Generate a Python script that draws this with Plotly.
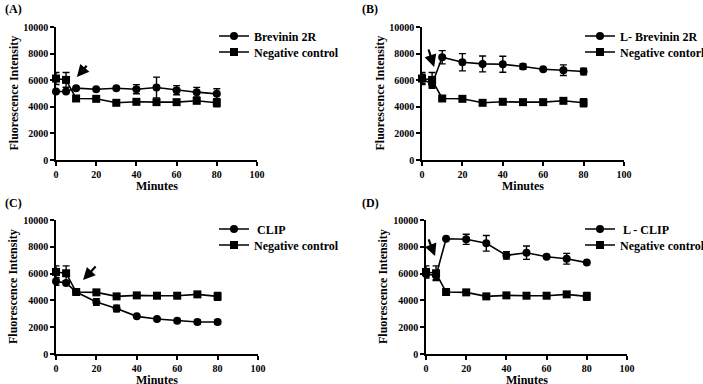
import plotly.graph_objects as go

minutes = [0, 5, 10, 20, 30, 40, 50, 60, 70, 80]

neg_ctrl = [6125, 6025, 4625, 4600, 4300, 4375, 4350, 4350, 4450, 4300]
neg_ctrl_err = [450, 550, 100, 80, 80, 80, 80, 80, 150, 300]

brevinin = [5150, 5150, 5400, 5325, 5400, 5325, 5450, 5250, 5100, 4975]
brevinin_err = [0, 0, 0, 0, 0, 340, 780, 340, 360, 380]

l_brevinin = [6100, 5700, 7725, 7350, 7225, 7200, 7025, 6825, 6750, 6650]
l_brevinin_err = [350, 300, 500, 650, 600, 600, 200, 0, 400, 250]

clip = [5420, 5300, 4630, 3880, 3400, 2810, 2610, 2490, 2390, 2390]
clip_err = [300, 0, 0, 250, 250, 0, 0, 0, 150, 150]

l_clip = [5970, 5850, 8600, 8560, 8260, 7360, 7560, 7260, 7110, 6820]
l_clip_err = [200, 300, 0, 380, 580, 270, 500, 0, 400, 0]

x_ticks = [0, 20, 40, 60, 80, 100]
y_ticks = [0, 2000, 4000, 6000, 8000, 10000]

panels = [
    dict(label="(A)", name="Brevinin 2R", ctrl_name="Negative control",
         y=brevinin, err=brevinin_err,
         arrow=(15.9, 7200, 10.4, 6240)),
    dict(label="(B)", name="L- Brevinin 2R", ctrl_name="Negative contorl",
         y=l_brevinin, err=l_brevinin_err,
         arrow=(3.0, 8420, 6.0, 7000)),
    dict(label="(C)", name=" CLIP", ctrl_name="Negative control",
         y=clip, err=clip_err,
         arrow=(20.3, 6640, 13.4, 5520)),
    dict(label="(D)", name=" L - CLIP", ctrl_name="Negative control",
         y=l_clip, err=l_clip_err,
         arrow=(1.0, 8660, 4.5, 7310)),
]

W, H = 703, 384
# pixel geometry of each panel: (x0, x100, y10000, y0)
geom = [(56, 257, 27, 160), (422, 624, 27, 160), (56, 258, 220, 354), (426, 627, 220, 354)]
# legend anchor: (x, row1 y, row2 y)
legpos = [(214, 36, 52), (580, 36, 52), (214, 229, 245), (580, 229, 245)]
labpos = [(3, 9), (360, 9), (3, 203), (360, 203)]

FONT = "Liberation Serif, Times New Roman, serif"
fig = go.Figure()
annotations = []
layout = {}
for i, (p, g) in enumerate(zip(panels, geom)):
    n = i + 1
    xa = "x" if n == 1 else f"x{n}"
    ya = "y" if n == 1 else f"y{n}"
    leg1 = "legend" if i == 0 else f"legend{2 * i + 1}"
    leg2 = f"legend{2 * i + 2}"
    common = dict(mode="lines+markers", line=dict(color="black", width=1.6),
                  cliponaxis=False, xaxis=xa, yaxis=ya, showlegend=True)
    fig.add_trace(go.Scatter(x=minutes, y=p["y"], name=p["name"], legend=leg1,
                             marker=dict(symbol="circle", size=8, color="black"),
                             error_y=dict(type="data", array=p["err"], color="black",
                                          thickness=1.4, width=3.5),
                             **common))
    fig.add_trace(go.Scatter(x=minutes, y=neg_ctrl, name=p["ctrl_name"], legend=leg2,
                             marker=dict(symbol="square", size=8, color="black"),
                             error_y=dict(type="data", array=neg_ctrl_err, color="black",
                                          thickness=1.4, width=3.5),
                             **common))
    x0, x100, yt, yb = g
    axis_common = dict(showline=True, linecolor="black", linewidth=1.6, ticks="outside",
                       ticklen=4, tickwidth=1.6, tickcolor="black", showgrid=False,
                       zeroline=False, automargin=False,
                       tickfont=dict(family=FONT, size=10, color="black", weight="bold"))
    layout["xaxis" if n == 1 else f"xaxis{n}"] = dict(
        domain=[x0 / W, x100 / W], range=[0, 100], tickvals=x_ticks,
        ticktext=[str(v) for v in x_ticks], anchor=ya, **axis_common)
    layout["yaxis" if n == 1 else f"yaxis{n}"] = dict(
        domain=[1 - yb / H, 1 - yt / H], range=[0, 10000],
        tickvals=y_ticks, ticktext=[str(v) for v in y_ticks], anchor=xa,
        **axis_common)
    lx, ly1, ly2 = legpos[i]
    for leg, ly in ((leg1, ly1), (leg2, ly2)):
        layout[leg] = dict(x=lx / W, y=1 - ly / H, xanchor="left", yanchor="middle",
                           bgcolor="rgba(0,0,0,0)", itemwidth=30, visible=True,
                           font=dict(family=FONT, size=12, color="black", weight="bold"))
    ax_, ay_, hx, hy = p["arrow"]
    annotations.append(dict(x=hx, y=hy, ax=ax_, ay=ay_, xref=xa, yref=ya,
                            axref=xa, ayref=ya, showarrow=True, arrowhead=2,
                            arrowsize=1.1, arrowwidth=2.2, arrowcolor="black", text=""))
    px, py = labpos[i]
    annotations.append(dict(x=px / W, y=1 - py / H, xref="paper", yref="paper",
                            xanchor="left", yanchor="middle", showarrow=False,
                            text=p["label"],
                            font=dict(family=FONT, size=12, color="black", weight="bold")))
    # axis titles
    annotations.append(dict(x=(x0 + x100) / 2 / W, y=1 - (yb + 26) / H, xref="paper",
                            yref="paper", xanchor="center", yanchor="middle",
                            showarrow=False, text="Minutes",
                            font=dict(family=FONT, size=12, color="black", weight="bold")))
    annotations.append(dict(x=(x0 - 43) / W, y=1 - (yt + yb) / 2 / H, xref="paper",
                            yref="paper", xanchor="center", yanchor="middle",
                            showarrow=False, text="Fluorescence Intensity", textangle=-90,
                            font=dict(family=FONT, size=12, color="black", weight="bold")))

fig.update_layout(width=W, height=H, showlegend=True,
                  margin=dict(l=0, r=0, t=0, b=0, autoexpand=False),
                  paper_bgcolor="white", plot_bgcolor="white",
                  annotations=annotations, **layout)
fig.write_html("out.html", config={"displayModeBar": False},
               post_script="document.body.style.margin='0';document.body.style.overflow='hidden';")
